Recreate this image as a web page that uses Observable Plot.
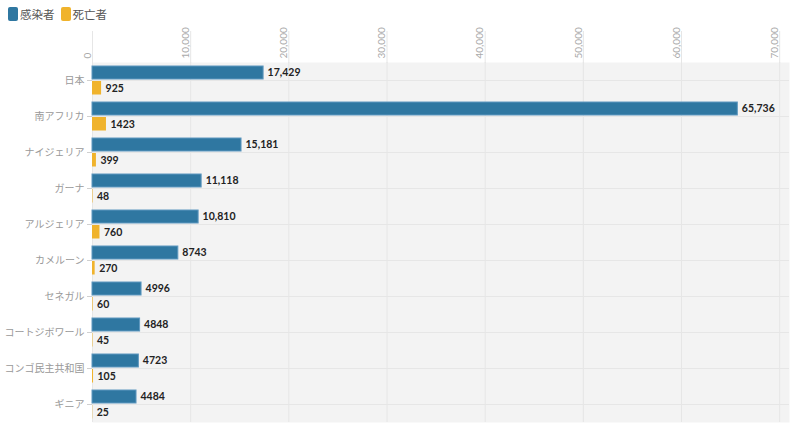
<!DOCTYPE html>
<html>
<head>
<meta charset="utf-8">
<script src="https://cdn.jsdelivr.net/npm/d3@7"></script>
<script src="https://cdn.jsdelivr.net/npm/@observablehq/plot@0.6"></script>
<style>
  body { margin: 0; background: #fff; font-family: Lato, "Noto Sans CJK JP", sans-serif; }
  #legend { height: 24px; display: flex; align-items: center; padding-left: 8px; padding-top: 4px; box-sizing: border-box; font-size: 11.5px; color: #555; font-family: "Noto Sans CJK JP", sans-serif; }
  #legend .item { display: flex; align-items: center; margin-right: 6px; }
  #legend .sw { width: 10px; height: 14px; border-radius: 2px; margin-right: 2px; }
  svg { display: block; overflow: visible; }
</style>
</head>
<body>
<div id="legend"></div>
<div id="chart"></div>
<script>
const countries = ["日本", "南アフリカ", "ナイジェリア", "ガーナ", "アルジェリア", "カメルーン", "セネガル", "コートジボワール", "コンゴ民主共和国", "ギニア"];
const infected = [17429, 65736, 15181, 11118, 10810, 8743, 4996, 4848, 4723, 4484];
const deaths = [925, 1423, 399, 48, 760, 270, 60, 45, 105, 25];
const seriesNames = ["感染者", "死亡者"];
const seriesColors = ["#2f77a1", "#f0b32c"];
const xTicks = [0, 10000, 20000, 30000, 40000, 50000, 60000, 70000];

const rows = countries.map((c, i) => ({country: c, infected: infected[i], deaths: deaths[i]}));
const valueFormat = d => d >= 10000 ? d3.format(",")(d) : String(d);

const legend = document.getElementById("legend");
seriesNames.forEach((n, i) => {
  const it = document.createElement("div");
  it.className = "item";
  it.innerHTML = `<span class="sw" style="background:${seriesColors[i]}"></span><span>${n}</span>`;
  legend.appendChild(it);
});

const chart = Plot.plot({
  width: 800,
  height: 412,
  marginTop: 38,
  marginLeft: 92,
  marginRight: 11,
  marginBottom: 14,
  style: {fontFamily: "Lato, 'Noto Sans CJK JP', sans-serif", background: "#fff", overflow: "visible"},
  x: {domain: [0, 71000], axis: null},
  y: {domain: countries, padding: 0, axis: null, label: null},
  marks: [
    Plot.frame({fill: "#f3f3f3", stroke: null}),
    Plot.gridX(xTicks, {stroke: "#e6e6e6", strokeOpacity: 1}),
    Plot.gridY({stroke: "#e6e6e6", strokeOpacity: 1}),
    Plot.axisX(xTicks, {anchor: "top", tickSize: 32, tickFormat: () => "", stroke: "#e6e6e6", label: null}),
    Plot.axisX(xTicks, {anchor: "top", tickSize: 0, tickPadding: 4, tickRotate: -90, tickFormat: d3.format(","), fill: "#aaa", fontSize: 10, dx: -5, label: null}),
    Plot.axisY({tickSize: 5, tickPadding: 3, stroke: "#d0d0d0", fill: "#999", fontSize: 10, fontFamily: "'Noto Sans CJK JP', sans-serif", label: null}),
    Plot.barX(rows, {x: "infected", y: "country", fill: seriesColors[0], stroke: "#5f98bf", strokeWidth: 1, insetTop: 4, insetBottom: 19}),
    Plot.barX(rows, {x: "deaths", y: "country", fill: seriesColors[1], insetTop: 19, insetBottom: 3.5}),
    Plot.text(rows, {x: "infected", y: "country", text: d => valueFormat(d.infected), textAnchor: "start", dx: 4, dy: -7.5, fontWeight: "bold", fontSize: 10.5, fill: "#222"}),
    Plot.text(rows, {x: "deaths", y: "country", text: d => valueFormat(d.deaths), textAnchor: "start", dx: 4, dy: 8, fontWeight: "bold", fontSize: 10.5, fill: "#222"})
  ]
});
document.getElementById("chart").appendChild(chart);
</script>
</body>
</html>
